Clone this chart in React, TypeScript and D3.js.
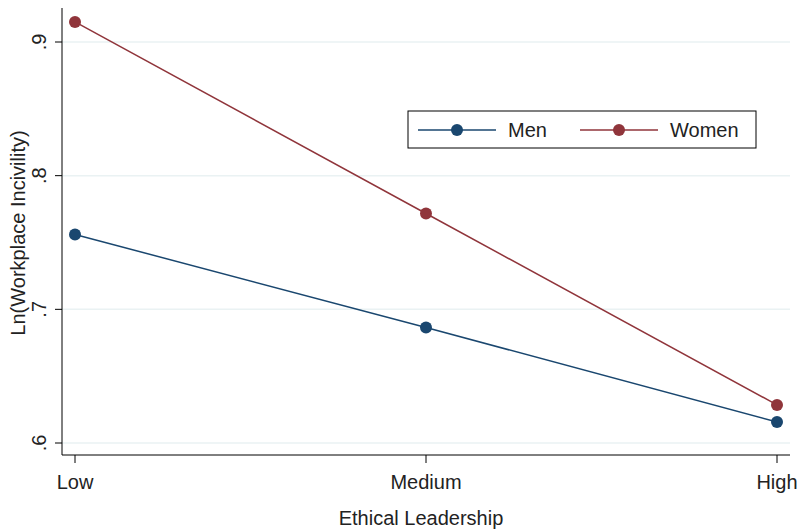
import React from 'react'
import * as d3 from 'd3'

const levels = ['Low', 'Medium', 'High']
const men = [0.756, 0.6864, 0.6157]
const women = [0.915, 0.7717, 0.6285]
const yTicks = [0.6, 0.7, 0.8, 0.9]

const series = [
  { name: 'Men', values: men, color: '#1a476f' },
  { name: 'Women', values: women, color: '#90353b' },
]

const App = () => {
  const width = 801
  const height = 529
  const font = '"Liberation Sans", Arial, sans-serif'
  const fs = 20

  const x = d3.scalePoint<string>().domain(levels).range([75, 777])
  const y = d3.scaleLinear().domain([0.6, 0.9]).range([443, 42])

  const line = d3
    .line<number>()
    .x((_, i) => x(levels[i]) as number)
    .y(d => y(d))

  return (
    <svg width={width} height={height} style={{ position: 'absolute', left: 0, top: 0, background: '#fff' }}>
      {/* grid */}
      {yTicks.map(t => (
        <line key={t} x1={62} x2={790} y1={y(t)} y2={y(t)} stroke="#eaf2f3" strokeWidth={1.5} />
      ))}
      {/* axes */}
      <line x1={62} x2={62} y1={8} y2={455} stroke="#000" strokeWidth={1} />
      <line x1={62} x2={790} y1={455} y2={455} stroke="#000" strokeWidth={1} />
      {yTicks.map(t => (
        <g key={t}>
          <line x1={55} x2={62} y1={y(t)} y2={y(t)} stroke="#000" />
          <text
            transform={`translate(46,${y(t)}) rotate(-90)`}
            textAnchor="middle"
            fontFamily={font}
            fontSize={fs}
            fill="#222"
          >
            {d3.format('.1f')(t).replace(/^0/, '')}
          </text>
        </g>
      ))}
      {levels.map(l => (
        <g key={l}>
          <line x1={x(l)} x2={x(l)} y1={455} y2={463} stroke="#000" />
          <text x={x(l)} y={489} textAnchor="middle" fontFamily={font} fontSize={fs} fill="#222">
            {l}
          </text>
        </g>
      ))}
      <text x={421} y={525} textAnchor="middle" fontFamily={font} fontSize={fs} fill="#222">
        Ethical Leadership
      </text>
      <text
        transform={`translate(25,233) rotate(-90)`}
        textAnchor="middle"
        fontFamily={font}
        fontSize={fs}
        fill="#222"
      >
        Ln(Workplace Incivility)
      </text>
      {/* series */}
      {series.map(s => (
        <g key={s.name}>
          <path d={line(s.values) || ''} fill="none" stroke={s.color} strokeWidth={1.5} />
          {s.values.map((v, i) => (
            <circle key={i} cx={x(levels[i])} cy={y(v)} r={6} fill={s.color} />
          ))}
        </g>
      ))}
      {/* legend */}
      <rect x={408} y={111} width={348} height={37} fill="#fff" stroke="#000" strokeWidth={1} />
      {series.map((s, i) => {
        const lx = 418 + i * 162
        return (
          <g key={s.name}>
            <line x1={lx} x2={lx + 78} y1={130} y2={130} stroke={s.color} strokeWidth={1.5} />
            <circle cx={lx + 39} cy={130} r={6} fill={s.color} />
            <text x={lx + 90} y={137} fontFamily={font} fontSize={20} fill="#222">
              {s.name}
            </text>
          </g>
        )
      })}
    </svg>
  )
}

export default App
